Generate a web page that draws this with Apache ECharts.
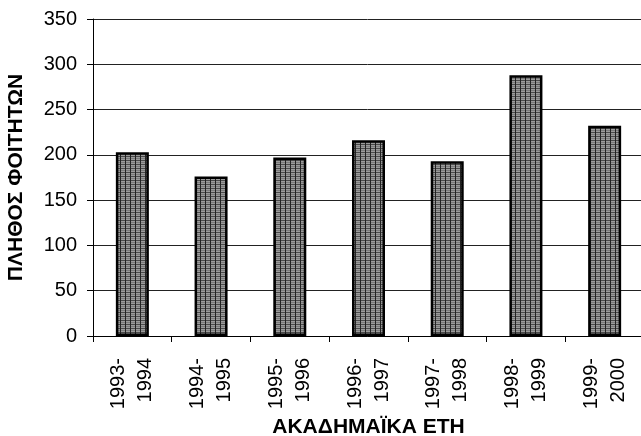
<!DOCTYPE html>
<html>
<head>
<meta charset="utf-8">
<script src="https://cdn.jsdelivr.net/npm/echarts@6/dist/echarts.min.js"></script>
<style>
  html, body { margin: 0; padding: 0; background: #fff; }
  #chart { width: 641px; height: 436px; }
</style>
</head>
<body>
<div id="chart"></div>
<script>
// academic years (two-line labels)
const years = ['1993-\n1994', '1994-\n1995', '1995-\n1996', '1996-\n1997', '1997-\n1998', '1998-\n1999', '1999-\n2000']
// number of students
const students = [203, 176, 197, 216, 193, 288, 232]
const yTicks = { min: 0, max: 350, interval: 50 }

// cross-hatch fill like the old spreadsheet pattern
function makePattern() {
  const c = document.createElement('canvas')
  c.width = 5
  c.height = 4
  const ctx = c.getContext('2d')
  ctx.fillStyle = '#9c9c9c'
  ctx.fillRect(0, 0, 5, 4)
  ctx.fillStyle = '#4a4a4a'
  ctx.fillRect(0, 0, 5, 1)
  ctx.fillStyle = '#7a7a7a'
  ctx.fillRect(0, 2, 5, 1)
  ctx.fillStyle = '#222'
  ctx.fillRect(0, 0, 1, 4)
  return c
}

const chart = echarts.init(document.getElementById('chart'))
const font = 'Liberation Sans, Arial, sans-serif'

chart.setOption({
  animation: false,
  grid: {
    left: 93,
    top: 19,
    width: 551,
    bottom: 100,
    containLabel: false,
    outerBoundsMode: 'none'
  },
  xAxis: {
    type: 'category',
    data: years,
    name: 'ΑΚΑΔΗΜΑΪΚΑ ΕΤΗ',
    nameLocation: 'middle',
    nameGap: 80,
    nameTextStyle: { fontFamily: font, fontSize: 21, fontWeight: 'bold', color: '#000' },
    axisLine: { lineStyle: { color: '#000', width: 1 } },
    axisTick: { show: true, length: 6, lineStyle: { color: '#000' } },
    axisLabel: {
      rotate: 90,
      margin: 22,
      fontFamily: font,
      fontSize: 20,
      lineHeight: 27,
      color: '#000'
    }
  },
  yAxis: {
    type: 'value',
    min: yTicks.min,
    max: yTicks.max,
    interval: yTicks.interval,
    name: 'ΠΛΗΘΟΣ ΦΟΙΤΗΤΩΝ',
    nameLocation: 'middle',
    nameGap: 66,
    nameTextStyle: { fontFamily: font, fontSize: 21, fontWeight: 'bold', color: '#000' },
    axisLine: { show: true, lineStyle: { color: '#000', width: 1 } },
    axisTick: { show: true, length: 6, lineStyle: { color: '#000' } },
    axisLabel: { fontFamily: font, fontSize: 20, color: '#000', margin: 16 },
    splitLine: { show: true, lineStyle: { color: '#222', width: 1 } }
  },
  series: [{
    type: 'bar',
    data: students,
    barWidth: 33,
    itemStyle: {
      color: { image: makePattern(), repeat: 'repeat' },
      borderColor: '#000',
      borderWidth: 2.5
    }
  }]
})
</script>
</body>
</html>
